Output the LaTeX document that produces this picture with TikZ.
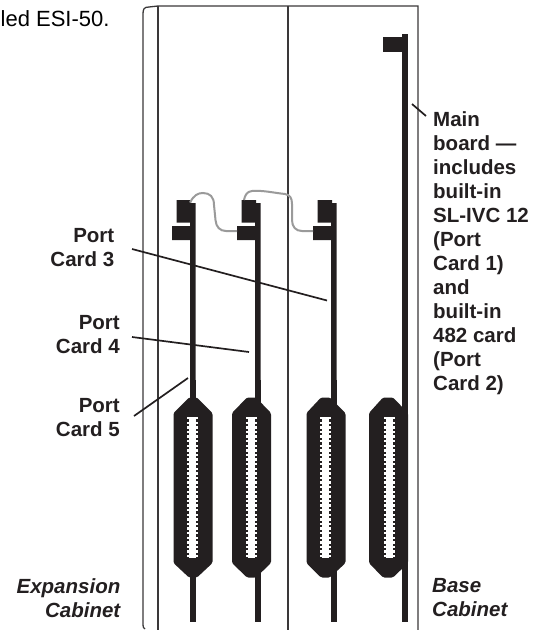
\documentclass[tikz,border=0pt]{standalone}
\usepackage{fontspec}
\setmainfont{Liberation Sans}
\definecolor{ink}{HTML}{231F20}
\definecolor{frameink}{HTML}{3A3839}
\definecolor{wire}{HTML}{9A9A9A}
\tikzset{
  x=1pt,y=-1pt,
  frameline/.style={draw=frameink,line width=1.3pt},
  leader/.style={draw=ink,line width=1.7pt},
  cable/.style={draw=wire,line width=2pt},
  lab/.style={font=\fontsize{20.5}{24}\selectfont\bfseries,text=ink,inner sep=0pt},
  labit/.style={font=\fontsize{20.5}{24.5}\selectfont\bfseries\itshape,text=ink,inner sep=0pt},
  toptext/.style={font=\fontsize{22}{26}\selectfont,text=black,inner sep=0pt}
}
% #1 left of connector, #2 left of top flat, #3 right of top flat, #4 bar left, #5 slot left
\newcommand{\dsub}[5]{%
  \fill[ink,rounded corners=1.5pt] (#1,413) -- (#2,397.5) -- (#3,397.5) -- (#1+39,413) -- (#1+39,563) -- (#3,577.5) -- (#2,577.5) -- (#1,563) -- cycle;
  \fill[ink] (#4,380) rectangle (#4+5.7,621.5);
  \fill[white] (#5+2,417) rectangle (#5+9,558);
  \foreach \k in {0,...,30}{
    \fill[white] (#5,417+\k*4.6) rectangle (#5+11,417+\k*4.6+2.3);
  }
}
% #1 left of lower block, #2 bar left
\newcommand{\topconn}[2]{%
  \fill[ink] (#1+4.5,200) -- (#2+1,200) -- (#2+1,203) -- (#2+5.7,203) -- (#2+5.7,400) -- (#2,400) -- (#2,240) -- (#1,240) -- (#1,226) -- (#2,226) -- (#2,222.5) -- (#1+4.5,222.5) -- cycle;
}
\begin{document}
\begin{tikzpicture}
\useasboundingbox (0,0) rectangle (537,630);
\node[toptext,anchor=base west] (esi) at (0.5,26) {led ESI-50.};
% frame
\draw[frameline] (145,629) .. controls (143.5,628) and (143,627) .. (143,625) -- (143,14) .. controls (143,9) and (144,7) .. (149,7) -- (158,6) -- (418,6) -- (418,630);
\draw[frameline] (158,6) -- (158,630);
\draw[frameline] (288,6) -- (288,630);
% cards
\topconn{172}{190}
\dsub{173.5}{189}{197}{190}{187}
\topconn{237}{255}
\dsub{232}{247}{256}{255}{246}
\topconn{313}{331}
\dsub{306.5}{321}{330}{331}{320}
\fill[ink] (402,34) rectangle (407.5,621.5);
\fill[ink] (383,37) rectangle (402,52);
\dsub{369}{383}{393}{402}{384}
\fill[ink] (402,34) rectangle (407.5,621.5);
% cables
\draw[cable] (190,202.5) .. controls (194,195) and (198,193) .. (203,193) .. controls (210,193) and (214,197) .. (214,205) -- (215.5,220) .. controls (216,227) and (220,231) .. (226,231) -- (237,231);
\draw[cable] (244,200) .. controls (245,195) and (247,191.5) .. (252,191) .. controls (262,190) and (275,193) .. (285,194) .. controls (290,195) and (292,198) .. (292,204) -- (292,220) .. controls (292,227) and (296,231) .. (302,231) -- (313,231);
% labels
\node[lab,anchor=north east,align=right] (p3) at (114.5,228) {Port\\Card 3};
\node[lab,anchor=north east,align=right] (p4) at (120,315) {Port\\Card 4};
\node[lab,anchor=north east,align=right] (p5) at (120,398) {Port\\Card 5};
\node[lab,anchor=north west,align=left] (mb) at (433,111) {Main\\board —\\includes\\built-in\\SL-IVC 12\\(Port\\Card 1)\\and\\built-in\\482 card\\(Port\\Card 2)};
\node[labit,anchor=north east,align=right] (ec) at (120.5,578) {Expansion\\Cabinet};
\node[labit,anchor=north west,align=left] (bc) at (432,578) {Base\\Cabinet};
% leaders
\coordinate (a3) at (132,249); \coordinate (b3) at (327,300.5);
\coordinate (a4) at (132,337); \coordinate (b4) at (249,352);
\coordinate (a5) at (134,416); \coordinate (b5) at (188,378);
\coordinate (am) at (412,104); \coordinate (bm) at (426,116);
\draw[leader] (a3) -- (b3);
\draw[leader] (a4) -- (b4);
\draw[leader] (a5) -- (b5);
\draw[leader] (am) -- (bm);
\end{tikzpicture}
\end{document}
